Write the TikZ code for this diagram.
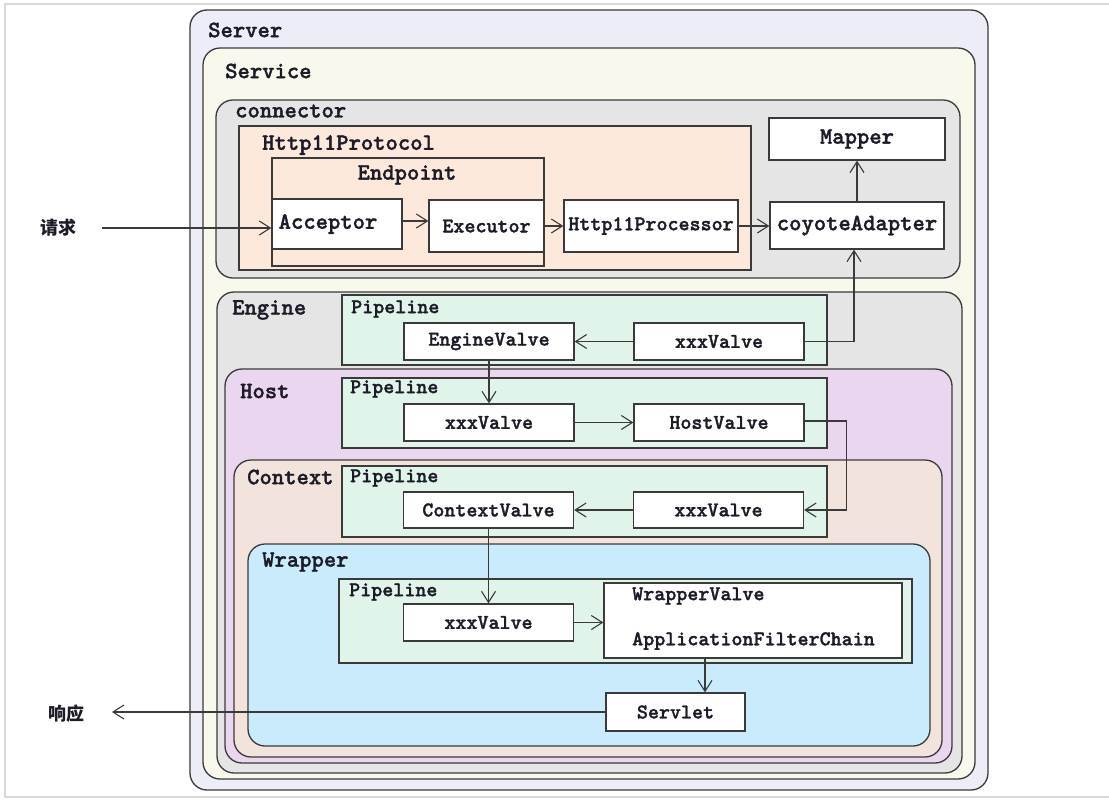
\documentclass[tikz,border=0pt]{standalone}
\usepackage{fontspec}
\newfontfamily\cjkfont{Noto Sans CJK SC}
\newfontfamily\refmono{lmmonolt10-bold.otf}[FakeBold=1.4]
\usetikzlibrary{arrows.meta}
\definecolor{linec}{HTML}{3A3A3A}
\definecolor{txtc}{HTML}{1C1C28}
\definecolor{frm}{HTML}{D9D9D9}
\definecolor{cServer}{HTML}{EDEDF7}
\definecolor{cService}{HTML}{F8F8EC}
\definecolor{cConn}{HTML}{E5E5E5}
\definecolor{cProto}{HTML}{FCE9DB}
\definecolor{cEngine}{HTML}{E5E5E5}
\definecolor{cPipe}{HTML}{E1F4EA}
\definecolor{cHost}{HTML}{EAD6EE}
\definecolor{cCtx}{HTML}{F2E4DC}
\definecolor{cWrap}{HTML}{C9EBFB}
\newcommand{\bigmono}{\refmono\fontsize{23.5}{25}\selectfont}
\newcommand{\smmono}{\refmono\fontsize{21}{23}\selectfont}
\tikzset{
  cont/.style={draw=linec, line width=1.3pt, rounded corners=17pt},
  flat/.style={draw=linec, line width=1.3pt},
  lbl/.style={anchor=west, inner sep=0pt, text=txtc, font=\bigmono},
  plbl/.style={anchor=west, inner sep=0pt, text=txtc, font=\smmono},
  box/.style={draw=linec, fill=white, line width=1.3pt, inner sep=0pt, text=txtc, font=\smmono},
  bigbox/.style={box, font=\bigmono},
  arr/.style={draw=linec, line width=1.1pt, -{Straight Barb[length=11pt,width=14pt,line width=1.1pt]}},
  cjk/.style={inner sep=0pt, text=txtc, font=\cjkfont\bfseries\fontsize{18}{20}\selectfont}
}
\begin{document}
\begin{tikzpicture}[x=1pt,y=-1pt]
\useasboundingbox (0,0) rectangle (1109,804);
\fill[white] (0,0) rectangle (1109,804);
% screenshot frame
\draw[frm, line width=1.5pt] (1109,4) -- (5,4) -- (5,797) -- (1109,797);
% containers
\draw[cont, fill=cServer] (190,10) rectangle (988,790);
\node[lbl] (lServer) at (208,30) {Server};
\draw[cont, fill=cService] (203,48) rectangle (975,779);
\node[lbl] (lService) at (225,71) {Service};
\draw[cont, fill=cConn] (216,100) rectangle (960,278);
\node[lbl] (lConn) at (235,111) {connector};
\draw[flat, fill=cProto] (239,126) rectangle (751,270);
\node[lbl] (lProto) at (262,145) {Http11Protocol};
\draw[flat, fill=cProto] (272,158) rectangle (544,266);
\node[lbl, anchor=center] (lEnd) at (407,175) {Endpoint};
\draw[cont, fill=cEngine] (217,292) rectangle (962,773);
\node[lbl] (lEngine) at (232,310) {Engine};
\draw[flat, fill=cPipe] (342,295) rectangle (827,365);
\node[plbl] (lPipe1) at (351,309) {Pipeline};
\draw[cont, fill=cHost] (225,369) rectangle (952,763);
\node[lbl] (lHost) at (240,391) {Host};
\draw[flat, fill=cPipe] (342,378) rectangle (827,448);
\node[plbl] (lPipe2) at (350,389) {Pipeline};
\draw[cont, fill=cCtx] (234,460) rectangle (942,757);
\node[lbl] (lCtx) at (247,477) {Context};
\draw[flat, fill=cPipe] (342,466) rectangle (827,537);
\node[plbl] (lPipe3) at (350,478) {Pipeline};
\draw[cont, fill=cWrap] (248,544) rectangle (930,746);
\node[lbl] (lWrap) at (262,562) {Wrapper};
\draw[flat, fill=cPipe] (339,579) rectangle (912,663);
\node[plbl] (lPipe4) at (349,592) {Pipeline};
% boxes
\node[bigbox, minimum width=130pt, minimum height=50pt] (acc) at (337,224) {\hspace*{-18pt}Acceptor};
\node[box, minimum width=115pt, minimum height=52pt] (exe) at (486.5,226) {Executor};
\node[box, minimum width=174pt, minimum height=52pt] (hp) at (651,226) {Http11Processor};
\node[bigbox, minimum width=174pt, minimum height=47pt] (cad) at (857,225.5) {coyoteAdapter};
\node[bigbox, minimum width=176pt, minimum height=42pt] (map) at (857,139) {Mapper};
\node[box, minimum width=170pt, minimum height=37pt] (ev) at (489,341.5) {EngineValve};
\node[box, minimum width=170pt, minimum height=37pt] (ex) at (719,341.5) {xxxValve};
\node[box, minimum width=170pt, minimum height=37pt] (hx) at (489,422.5) {xxxValve};
\node[box, minimum width=170pt, minimum height=37pt] (hv) at (719,422.5) {HostValve};
\node[box, minimum width=170pt, minimum height=36pt] (cv) at (488.5,510) {ContextValve};
\node[box, minimum width=170pt, minimum height=36pt] (cx) at (718.5,510) {xxxValve};
\node[box, minimum width=170pt, minimum height=37pt] (wx) at (488.5,622.5) {xxxValve};
\node[box, minimum width=298pt, minimum height=75pt] (wafc) at (753,620.5) {};
\node[plbl] (wvt) at (632,596) {WrapperValve};
\node[plbl] (aft) at (632,641) {ApplicationFilterChain};
\node[box, minimum width=139pt, minimum height=38pt] (srv) at (675.5,712) {Servlet};
% external labels
\node[cjk] (req) at (58,228) {请求};
\coordinate (reqs) at (102,228);
\node[cjk] (resp) at (66,714) {响应};
\coordinate (resps) at (112,712);
% connectors
\draw[arr] (reqs) -- (reqs -| acc.west);
\draw[arr] ([yshift=3pt]acc.east) -- ([yshift=3pt]acc.east -| exe.west);
\draw[arr] (exe.east) -- (hp.west);
\draw[arr] (hp.east) -- (hp.east -| cad.west);
\draw[arr] (cad.north) -- (map.south);
\draw[arr] (ex.east) -| ([xshift=-3pt]cad.south);
\draw[arr] (ex.west) -- (ev.east);
\draw[arr] (ev.south) -- (hx.north);
\draw[arr] (hx.east) -- (hv.west);
\draw[arr] ([yshift=1.5pt]hv.east) -- ++(42pt,0) |- (cx.east);
\draw[arr] (cx.west) -- (cv.west -| cv.east);
\draw[arr] (cv.south) -- (wx.north);
\draw[arr] (wx.east) -- (wx.east -| wafc.west);
\draw[arr] ([xshift=29.5pt]srv.north |- wafc.south) -- ([xshift=29.5pt]srv.north);
\draw[arr] (srv.west) -- (resps);
\end{tikzpicture}
\end{document}
